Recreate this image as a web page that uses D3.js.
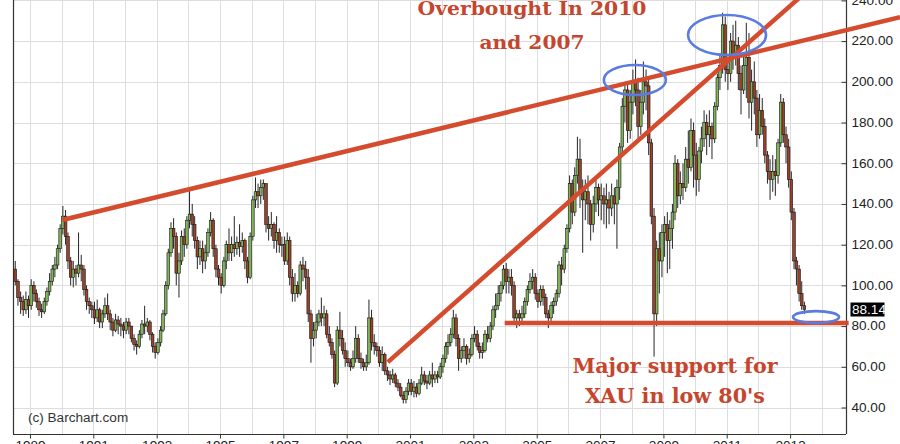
<!DOCTYPE html>
<html>
<head>
<meta charset="utf-8">
<script src="https://cdn.jsdelivr.net/npm/d3@7/dist/d3.min.js"></script>
<style>
html,body{margin:0;padding:0;background:#fff;}
svg{display:block;}
</style>
</head>
<body>
<svg id="chart" width="900" height="444"></svg>
<script>
// ================= DATA =================
// Monthly candles of the XAU index, first candle = July 1988
const firstMonth = { year: 1988, month: 7 };

const opens = [
  108,102,94,92,88,93,
  90,100,96,92,88,87,92,97,102,108,110,118,
  128,134,124,112,104,108,106,110,108,98,92,90,
  88,84,88,82,86,90,86,82,78,83,81,80,
  78,82,80,74,71,70,76,81,80,82,76,70,
  67,72,78,86,100,116,128,124,106,112,124,120,
  132,135,130,122,114,118,112,116,126,132,118,108,
  104,100,112,120,116,120,118,121,119,122,112,104,
  124,142,146,144,148,150,130,128,130,122,126,120,
  120,112,122,104,96,100,96,110,108,104,86,74,
  78,82,86,84,86,76,72,66,52,78,74,68,
  64,62,60,64,74,64,62,60,62,84,72,70,
  68,62,66,58,56,54,56,52,50,46,44,48,
  52,48,50,47,52,56,53,52,56,54,56,55,
  60,64,70,72,76,84,74,64,68,70,64,66,
  74,76,70,67,68,76,74,80,88,90,96,100,
  108,102,104,100,84,86,84,86,92,98,102,104,
  96,92,98,94,86,84,90,92,96,110,108,118,
  128,150,136,154,162,146,142,146,140,130,140,148,
  142,144,140,142,138,144,140,148,168,188,196,176,
  190,200,196,178,190,200,198,170,134,86,118,112,
  126,130,122,128,136,160,144,150,148,162,158,176,
  164,152,166,172,180,174,178,172,188,202,208,228,
  206,204,220,214,218,204,196,208,212,190,200,192,
  174,186,178,164,156,152,156,154,170,190,174,168,
  152,136,112,108,96,90
];

const highs = [
  112,103,97,95,97,95,
  103,102,98,94,91,94,99,106,110,114,120,130,
  139,137,126,114,112,110,126,115,110,100,94,92,
  92,93,89,88,94,96,88,84,86,85,84,82,
  84,84,80,76,73,78,83,90,84,83,77,72,
  74,80,88,102,118,131,133,126,116,127,128,134,
  147,140,134,124,122,122,120,128,136,133,120,110,
  106,114,122,128,124,134,124,130,126,123,114,126,
  144,153,150,152,152,150,134,136,131,134,128,124,
  124,126,124,108,106,102,112,114,112,108,88,82,
  86,88,94,90,88,80,74,68,80,87,78,72,
  68,64,68,80,76,67,64,66,93,88,76,72,
  70,70,67,60,58,59,57,54,52,48,50,54,
  54,53,52,54,60,58,56,58,62,58,58,62,
  66,72,76,79,88,86,76,70,74,71,69,76,
  80,78,72,72,78,80,82,90,96,100,102,110,
  111,108,108,102,88,88,90,94,100,106,108,106,
  98,100,100,96,88,92,94,98,112,114,120,130,
  154,152,158,173,172,152,152,154,142,144,152,150,
  150,148,150,146,150,148,152,170,192,200,200,196,
  206,211,202,196,210,206,202,172,138,122,126,130,
  134,136,132,140,164,162,156,160,168,176,182,180,
  170,168,178,186,184,186,180,190,204,214,234,232,
  212,224,228,230,222,208,214,229,224,206,210,196,
  194,192,182,166,162,164,162,172,194,192,178,172,
  156,138,114,110,102,92
];

const lows = [
  100,90,86,85,86,84,
  88,92,89,85,84,86,90,95,100,104,108,116,
  125,120,108,100,99,100,104,102,95,88,86,84,
  81,82,79,79,84,83,78,75,77,76,75,74,
  76,76,72,68,66,69,74,76,77,73,67,64,
  66,70,77,85,98,114,118,100,94,110,114,118,
  128,124,118,108,110,106,108,114,124,114,104,100,
  96,99,108,112,112,114,115,114,116,108,101,103,
  122,138,138,140,142,126,122,124,118,116,116,114,
  110,110,100,92,92,94,95,102,98,82,62,70,
  74,80,80,80,74,70,64,50,51,70,66,60,
  60,58,59,62,62,59,58,58,61,68,66,65,
  60,58,56,53,51,52,50,48,45,42,42,46,
  46,45,45,46,51,51,49,51,50,52,52,54,
  57,62,66,70,74,70,58,62,64,61,62,65,
  72,68,64,64,67,72,72,78,84,88,92,98,
  96,96,95,82,79,80,82,84,90,96,98,93,
  89,90,90,84,79,82,86,90,94,100,106,116,
  126,130,134,150,138,116,132,130,122,126,136,134,
  132,130,128,130,134,130,118,142,164,180,170,172,
  184,188,172,174,184,186,164,130,65,80,96,104,
  114,106,108,118,132,138,140,142,146,150,156,148,
  144,146,160,168,164,168,162,170,186,196,204,200,
  196,200,206,208,196,184,194,192,182,176,184,168,
  172,174,160,150,142,146,144,150,168,170,160,148,
  132,108,100,92,88,86
];

const closes = [
  102,94,92,88,93,90,
  100,96,92,88,87,92,97,102,108,110,118,128,
  134,124,112,104,108,106,110,108,98,92,90,88,
  84,88,82,86,90,86,82,78,83,81,80,78,
  82,80,74,71,70,76,81,80,82,76,70,67,
  72,78,86,100,116,128,124,106,112,124,120,132,
  135,130,122,114,118,112,116,126,132,118,108,104,
  100,112,120,116,120,118,121,119,122,112,104,124,
  142,146,144,148,150,130,128,130,122,126,120,120,
  112,122,104,96,100,96,110,108,104,86,74,78,
  82,86,84,86,76,72,66,52,78,74,68,64,
  62,60,64,74,64,62,60,62,84,72,70,68,
  62,66,58,56,54,56,52,50,46,44,48,52,
  48,50,47,52,56,53,52,56,54,56,55,60,
  64,70,72,76,84,74,64,68,70,64,66,74,
  76,70,67,68,76,74,80,88,90,96,100,108,
  102,104,100,84,86,84,86,92,98,102,104,96,
  92,98,94,86,84,90,92,96,110,108,118,128,
  150,136,154,162,146,142,146,140,130,140,148,142,
  144,140,142,138,144,140,148,168,188,196,176,190,
  200,196,178,190,200,198,170,134,86,118,112,126,
  130,122,128,136,160,144,150,148,162,158,176,164,
  152,166,172,180,174,178,172,188,202,208,228,206,
  204,220,214,218,204,196,208,212,190,200,192,174,
  186,178,164,156,152,156,154,170,190,174,168,152,
  136,112,108,96,90,88.14
];

const lastPrice = 88.14;
const yTicks = [40, 60, 80, 100, 120, 140, 160, 180, 200, 220, 240];
const xTickYears = [1989, 1991, 1993, 1995, 1997, 1999, 2001, 2003, 2005, 2007, 2009, 2011, 2013];
const gridYears = [1989,1990,1991,1992,1993,1994,1995,1996,1997,1998,1999,2000,2001,2002,2003,2004,2005,2006,2007,2008,2009,2010,2011,2012,2013,2014];

// annotation trend lines: [decimal year, value] pairs
const trendLines = [
  [[1990.02, 132.1], [2016.47, 231.8]],   // long resistance line
  [[2000.30, 62.3], [2013.65, 246.2]],    // steep rising line
  [[2003.99, 81.5], [2014.85, 81.5]]      // support line
];
// highlight ellipse centres: [decimal year, value]
const highlights = [[2008.10, 200.9], [2011.01, 223.0], [2013.82, 84.4]];
const noteTop = ["Overbought In 2010", "and 2007"];
const noteBottom = ["Major support for", "XAU in low 80's"];
const credit = "(c) Barchart.com";

// ================= DRAW =================
const svg = d3.select("#chart");
const L = 13, R = 846, T = 0, B = 434;
const x = d3.scaleTime().domain([new Date(1989, 0, 1), new Date(2013, 0, 1)]).range([30, 790.1]);
const y = d3.scaleLinear().domain([40, 240]).range([407.5, 0.4]);
const decYear = v => { const yr = Math.floor(v); const s = new Date(yr, 0, 1), e = new Date(yr + 1, 0, 1); return new Date(+s + (v - yr) * (e - s)); };

const sansFont = "'Liberation Sans', Arial, sans-serif";
const ellipseSizes = [[31, 15], [39, 20], [23, 6]];
const lineColor = "#d44b2e", textColor = "#c5452d", blue = "#5a7be0";
const green = "#7fb459", red = "#9c4029";

// grid
const grid = svg.append("g").attr("stroke", "#dddddd").attr("stroke-width", 1);
grid.selectAll("line.v").data(gridYears).join("line").attr("class", "v")
  .attr("x1", d => Math.round(x(new Date(d, 0, 1))) + 0.5).attr("x2", d => Math.round(x(new Date(d, 0, 1))) + 0.5)
  .attr("y1", T).attr("y2", B);
grid.selectAll("line.h").data(yTicks).join("line").attr("class", "h")
  .attr("x1", L).attr("x2", R).attr("y1", d => Math.round(y(d)) + 0.5).attr("y2", d => Math.round(y(d)) + 0.5);

// candles
const data = opens.map((o, i) => ({
  date: new Date(firstMonth.year, firstMonth.month - 1 + i, 15),
  o, h: highs[i], l: lows[i], c: closes[i]
}));
const bw = 2.7;
const cg = svg.append("g");
cg.selectAll("line").data(data).join("line")
  .attr("x1", d => x(d.date)).attr("x2", d => x(d.date))
  .attr("y1", d => y(d.h)).attr("y2", d => y(d.l))
  .attr("stroke", "#262626").attr("stroke-width", 1);
cg.selectAll("rect").data(data).join("rect")
  .attr("x", d => x(d.date) - bw / 2).attr("width", bw)
  .attr("y", d => y(Math.max(d.o, d.c)))
  .attr("height", d => Math.max(0.8, Math.abs(y(d.o) - y(d.c))))
  .attr("fill", d => d.c >= d.o ? green : red)
  .attr("stroke", "#161616").attr("stroke-width", 0.6);

// axes frame
svg.append("line").attr("x1", L + 0.5).attr("x2", L + 0.5).attr("y1", T).attr("y2", B).attr("stroke", "#333").attr("stroke-width", 1.2);
svg.append("line").attr("x1", L).attr("x2", R).attr("y1", B + 0.5).attr("y2", B + 0.5).attr("stroke", "#333").attr("stroke-width", 1.2);
svg.append("line").attr("x1", R + 0.5).attr("x2", R + 0.5).attr("y1", T).attr("y2", B).attr("stroke", "#333").attr("stroke-width", 1.2);

const yAxis = d3.axisRight(y).tickValues(yTicks).tickFormat(d3.format(".2f"))
  .tickSizeInner(-5).tickSizeOuter(0).tickPadding(5);
const yg = svg.append("g").attr("class", "ax").attr("transform", `translate(${R + 0.5},0)`).call(yAxis);
yg.select(".domain").remove();

const xAxis = d3.axisBottom(x).tickValues(xTickYears.map(yr => new Date(yr, 0, 1)))
  .tickFormat(d3.timeFormat("%Y")).tickSize(4).tickPadding(3);
const xg = svg.append("g").attr("class", "ax").attr("transform", `translate(0,${B + 0.5})`).call(xAxis);
xg.select(".domain").remove();

svg.selectAll(".ax text").attr("font-family", sansFont).attr("font-size", 12).attr("fill", "#222");
svg.selectAll(".ax line").attr("stroke", "#333");

// last price tag
const lp = svg.append("g");
lp.append("rect").attr("x", R + 4.5).attr("y", y(lastPrice) - 7).attr("width", 34).attr("height", 14).attr("fill", "#000");
lp.append("text").attr("class", "stretch").attr("x", R + 6).attr("y", y(lastPrice)).attr("dy", "0.35em")
  .attr("font-family", sansFont).attr("font-size", 12).attr("fill", "#fff").text(lastPrice.toFixed(2));

// credit
svg.append("text").attr("class", "stretch").attr("x", 28).attr("y", 422)
  .attr("font-family", sansFont).attr("font-size", 12).attr("fill", "#333").text(credit);

// stretch sans labels horizontally (reference is slightly widened)
svg.selectAll(".ax text, text.stretch").each(function () {
  const w = this.getComputedTextLength();
  d3.select(this).attr("textLength", w * 1.13).attr("lengthAdjust", "spacingAndGlyphs");
});

// trend lines
svg.append("g").selectAll("line").data(trendLines).join("line")
  .attr("x1", d => x(decYear(d[0][0]))).attr("y1", d => y(d[0][1]))
  .attr("x2", d => x(decYear(d[1][0]))).attr("y2", d => y(d[1][1]))
  .attr("stroke", lineColor).attr("stroke-width", 4.5);

// highlight ellipses
svg.append("g").selectAll("ellipse").data(highlights).join("ellipse")
  .attr("cx", d => x(decYear(d[0]))).attr("cy", d => y(d[1]))
  .attr("rx", (d, i) => ellipseSizes[i][0]).attr("ry", (d, i) => ellipseSizes[i][1])
  .attr("fill", "none").attr("stroke", blue).attr("stroke-width", 2.6);

// annotation texts
const serif = "'DejaVu Serif', serif";
const notes = [
  { t: noteTop[0], cx: 532, by: 15, w: 229, fs: 18.5 },
  { t: noteTop[1], cx: 532, by: 48.5, w: 105, fs: 18.5 },
  { t: noteBottom[0], cx: 675, by: 372.5, w: 205, fs: 20 },
  { t: noteBottom[1], cx: 675, by: 403, w: 180, fs: 20 }
];
svg.append("g").selectAll("text").data(notes).join("text")
  .attr("x", d => d.cx - d.w / 2).attr("y", d => d.by)
  .attr("textLength", d => d.w).attr("lengthAdjust", "spacingAndGlyphs")
  .attr("font-family", serif).attr("font-weight", "bold").attr("font-size", d => d.fs)
  .attr("fill", textColor).text(d => d.t);
</script>
</body>
</html>
